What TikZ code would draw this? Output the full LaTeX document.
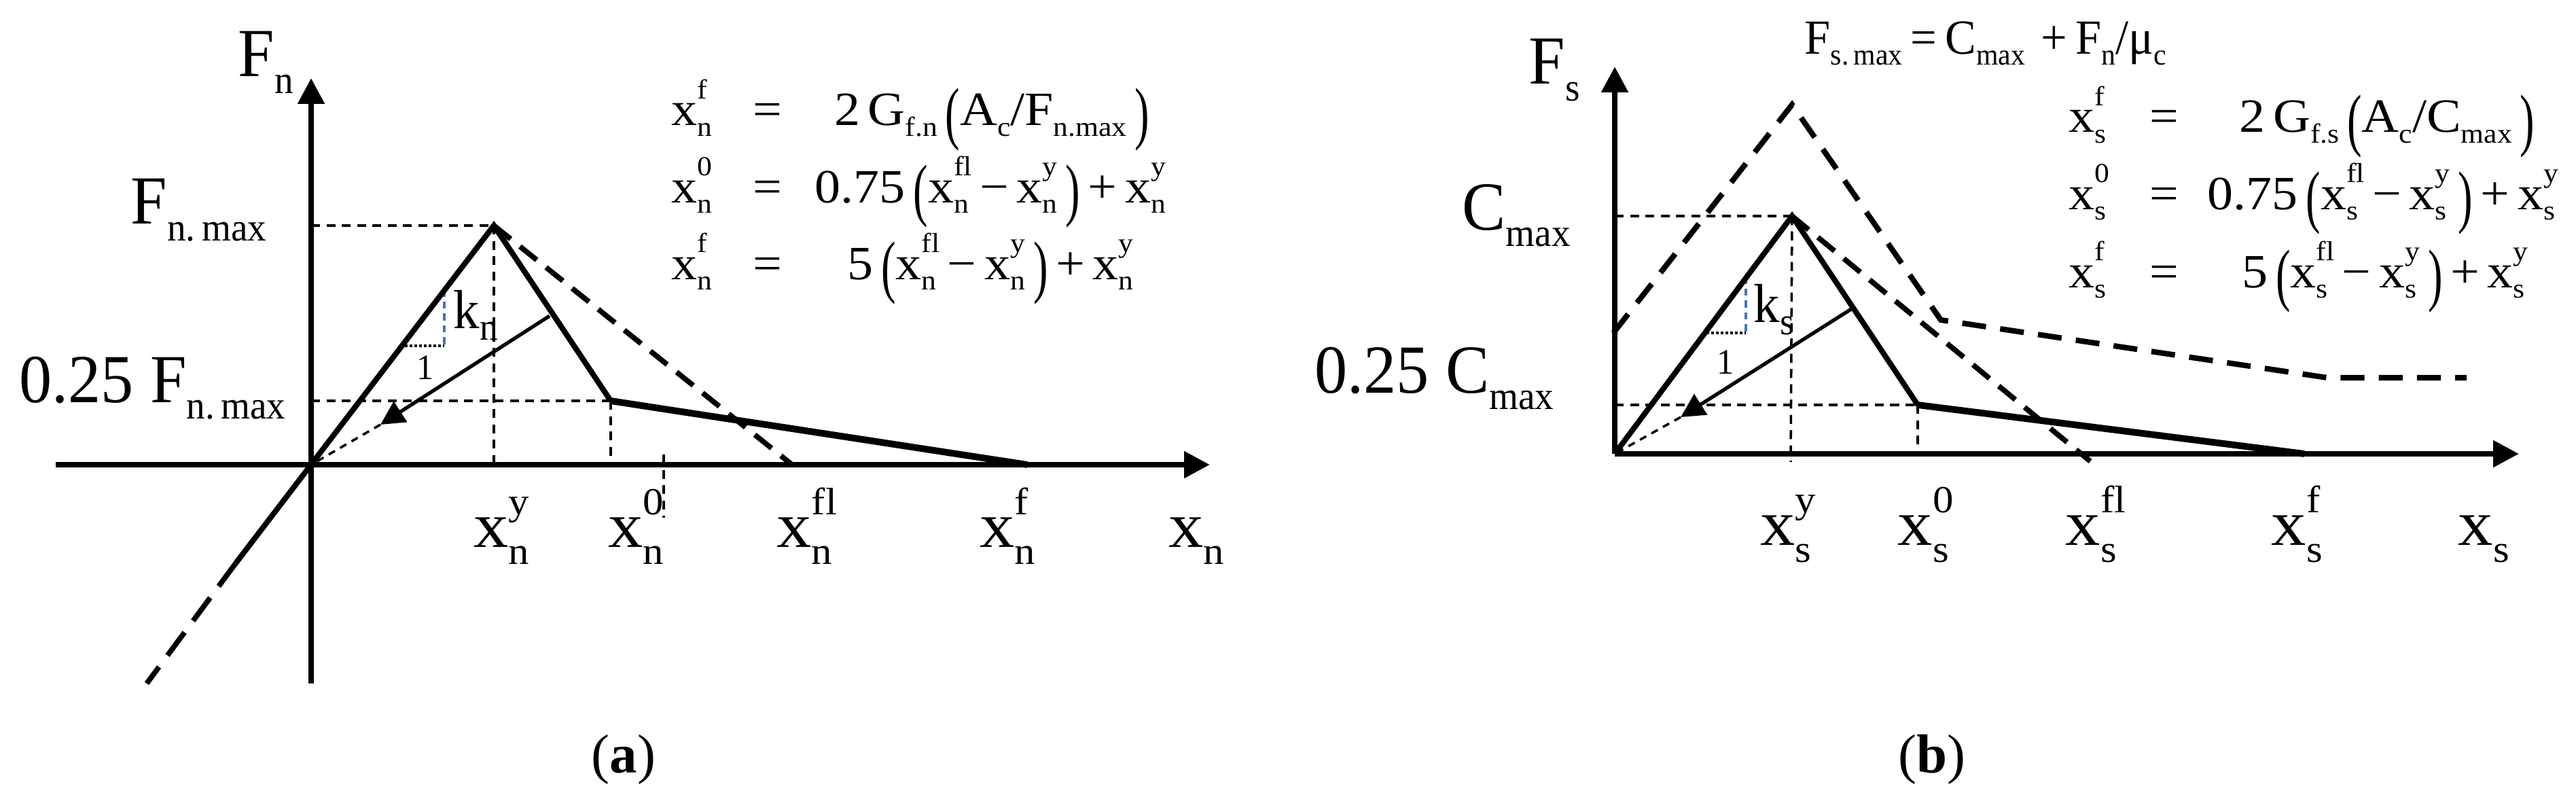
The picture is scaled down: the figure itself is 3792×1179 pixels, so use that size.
\documentclass[tikz,border=0pt]{standalone}
\usepackage{fontspec}
\setmainfont{Liberation Serif}[FakeStretch=0.95]
\newfontfamily\capfont{Liberation Serif}
\newfontfamily\eqfont{Liberation Serif}[FakeStretch=1.08]
\usepackage{graphicx}
\usetikzlibrary{arrows.meta}
\definecolor{slopeblue}{RGB}{68,114,196}
\newcommand\subfont{\fontsize{16}{17}\selectfont}
\newcommand\subdn{0.24em}
\newcommand\supup{0.45em}
\newcommand\SSa[3]{\mbox{#1%
 \setbox0=\hbox{\subfont #2}\setbox2=\hbox{\subfont #3}%
 \ifdim\wd0>\wd2 \rlap{\raisebox{\supup}{\copy2}}\raisebox{-\subdn}{\copy0}%
 \else\rlap{\raisebox{-\subdn}{\copy0}}\raisebox{\supup}{\copy2}\fi}}
\newcommand\bigp[1]{\raisebox{-0.22em}{\scalebox{0.85}[1.45]{#1}}}
\tikzset{
 axisline/.style={line width=2.4pt,-{Triangle[length=10.8pt,width=10.8pt]}},
 curveline/.style={line width=2.3pt,line join=miter},
 softline/.style={line width=2.8pt},
 bigdash/.style={line width=2.2pt,dash pattern=on 9pt off 5pt},
 longdash/.style={line width=2.2pt,dash pattern=on 12pt off 6pt},
 outerline/.style={line width=2.3pt,dash pattern=on 10pt off 6pt,line join=miter},
 guideline/.style={line width=1pt,dash pattern=on 3.8pt off 2.6pt},
 unloadline/.style={line width=1.5pt,-{Triangle[length=10pt,width=10pt]}},
 thindash/.style={line width=1pt,dash pattern=on 3pt off 2.5pt},
 slopeh/.style={line width=1.2pt,dash pattern=on 1pt off 1pt},
 slopev/.style={line width=1pt,draw=slopeblue,dash pattern=on 3pt off 2pt},
 labtxt/.style={inner sep=0pt,anchor=base west,font={\fontsize{28.8}{30}\selectfont\def\subfont{\fontsize{16.5}{17}\selectfont}\def\subdn{0.24em}\def\supup{0.45em}}},
 ticktxt/.style={inner sep=0pt,anchor=base west,font={\eqfont\fontsize{27}{28}\selectfont\def\subfont{\fontsize{16}{17}\selectfont}\def\subdn{0.27em}\def\supup{0.5em}}},
 eqtxt/.style={inner sep=0pt,anchor=base,font={\eqfont\fontsize{20}{21}\selectfont\def\subfont{\fontsize{11.5}{12}\selectfont}\def\subdn{0.22em}\def\supup{0.56em}}},
 topeqtxt/.style={inner sep=0pt,anchor=base west,font={\fontsize{20.5}{21}\selectfont\def\subfont{\fontsize{12.5}{13}\selectfont}\def\subdn{0.22em}\def\supup{0.5em}}},
 ktxt/.style={inner sep=0pt,anchor=base west,font={\fontsize{23}{24}\selectfont\def\subfont{\fontsize{16}{17}\selectfont}\def\subdn{0.22em}\def\supup{0.45em}}},
 onetxt/.style={inner sep=0pt,anchor=base west,font=\fontsize{15}{16}\selectfont},
 captxt/.style={inner sep=0pt,font=\capfont\fontsize{23}{25}\selectfont},
}
\begin{document}
\begin{tikzpicture}[x=0.01cm,y=-0.01cm]
\useasboundingbox (0,0) rectangle (3792,1179);
% ---------------- panel (a) ----------------
\coordinate (aO) at (458,684);
\coordinate (aYtop) at (458,115);
\coordinate (aYbot) at (458,1006);
\coordinate (aXl) at (82,684);
\coordinate (aXr) at (1781,684);
\coordinate (aP) at (727,332);
\coordinate (aC) at (899,590);
\coordinate (aE) at (1512,684);
\coordinate (aFl) at (1166,684);
\coordinate (aMid) at (347,829);
\coordinate (aNeg) at (216,1006);
\coordinate (aU) at (809,465);
\coordinate (aA) at (560,625);
\coordinate (aPy) at (458,332);
\coordinate (aCy) at (458,590);
\coordinate (aPx) at (727,684);
\coordinate (aCx) at (899,672);
\coordinate (aZt) at (977,669);
\coordinate (aZb) at (977,762);
\coordinate (aS1) at (596,509);
\coordinate (aS2) at (654,509);
\coordinate (aS3) at (654,426);

\draw[guideline] (aPy) -- (aP);
\draw[guideline] (aCy) -- (aC);
\draw[guideline] (aP) -- (aPx);
\draw[guideline] (aC) -- (aCx);
\draw[guideline] (aZt) -- (aZb);
\draw[slopeh] (aS1) -- (aS2);
\draw[slopev] (aS3) -- (aS2);
\draw[bigdash] (aP) -- (aFl);
\draw[longdash] (aMid) -- (aNeg);
\draw[curveline] (aMid) -- (aP) -- (aC);
\draw[softline] (aC) -- (aE);
\draw[unloadline] (aU) -- (aA);
\draw[thindash] (aA) -- (aO);
\draw[axisline] (aYbot) -- (aYtop);
\draw[axisline] (aXl) -- (aXr);

\node[labtxt] (aFn) at (350,113) {\SSa{F}{n}{}};
\node[labtxt] (aFmax) at (192,330) {\SSa{F}{n.\,max}{}};
\node[labtxt] (aF25) at (28,592) {0.25 \SSa{F}{n.\,max}{}};
\node[ktxt] (akn) at (667,483) {\SSa{k}{n}{}};
\node[onetxt] (aone) at (613,558) {1};
\node[ticktxt] (axy) at (697,805) {\SSa{x}{n}{y}};
\node[ticktxt] (ax0) at (895,805) {\SSa{x}{n}{0}};
\node[ticktxt] (axfl) at (1143,805) {\SSa{x}{n}{fl}};
\node[ticktxt] (axf) at (1442,805) {\SSa{x}{n}{f}};
\node[ticktxt] (axn) at (1720,805) {\SSa{x}{n}{}};

\node[eqtxt,anchor=base west] (aL1) at (988,185) {\SSa{x}{n}{f}};
\node[eqtxt] (aQ1) at (1130,185) {=};
\node[eqtxt] (aR1) at (1460,185) {2\,\SSa{G}{f.n}{}\,\bigp{(}\SSa{A}{c}{}/\SSa{F}{n.max}{}\,\bigp{)}};
\node[eqtxt,anchor=base west] (aL2) at (988,298) {\SSa{x}{n}{0}};
\node[eqtxt] (aQ2) at (1130,298) {=};
\node[eqtxt] (aR2) at (1458,298) {0.75\,\bigp{(}\SSa{x}{n}{fl}\,−\,\SSa{x}{n}{y}\,\bigp{)}\,+\,\SSa{x}{n}{y}};
\node[eqtxt,anchor=base west] (aL3) at (988,411) {\SSa{x}{n}{f}};
\node[eqtxt] (aQ3) at (1130,411) {=};
\node[eqtxt] (aR3) at (1458,411) {5\,\bigp{(}\SSa{x}{n}{fl}\,−\,\SSa{x}{n}{y}\,\bigp{)}\,+\,\SSa{x}{n}{y}};

\node[captxt] (acap) at (918,1118) {(\textbf{a})};

% ---------------- panel (b) ----------------
\coordinate (bO) at (2377,668);
\coordinate (bYtop) at (2377,98);
\coordinate (bXr) at (3708,668);
\coordinate (bP) at (2638,318);
\coordinate (bC) at (2823,596);
\coordinate (bE) at (3392,668);
\coordinate (bFl) at (3077,679);
\coordinate (bQ0) at (2375,490);
\coordinate (bQ1) at (2638,154);
\coordinate (bQ2) at (2857,471);
\coordinate (bQ3) at (3426,556);
\coordinate (bQ4) at (3631,556);
\coordinate (bU) at (2725,455);
\coordinate (bA) at (2474,614);
\coordinate (bPy) at (2377,318);
\coordinate (bCy) at (2377,596);
\coordinate (bPx) at (2636,680);
\coordinate (bCx) at (2823,656);
\coordinate (bS1) at (2512,490);
\coordinate (bS2) at (2570,490);
\coordinate (bS3) at (2570,407);

\draw[guideline] (bPy) -- (bP);
\draw[guideline] (bCy) -- (bC);
\draw[guideline] (bP) -- (bPx);
\draw[guideline] (bC) -- (bCx);
\draw[slopeh] (bS1) -- (bS2);
\draw[slopev] (bS3) -- (bS2);
\draw[bigdash] (bP) -- (bFl);
\draw[outerline] (bQ0) -- (bQ1) -- (bQ2) -- (bQ3) -- (bQ4);
\draw[curveline] (bO) -- (bP) -- (bC);
\draw[softline] (bC) -- (bE);
\draw[unloadline] (bU) -- (bA);
\draw[thindash] (bA) -- (bO);
\draw[axisline] (bO) -- (bYtop);
\draw[axisline] (bO) -- (bXr);

\node[labtxt] (bFs) at (2250,124) {\SSa{F}{s}{}};
\node[labtxt] (bCmax) at (2152,338) {\SSa{C}{max}{}};
\node[labtxt] (bC25) at (1935,578) {0.25 \SSa{C}{max}{}};
\node[ktxt] (bks) at (2581,475) {\SSa{k}{s}{}};
\node[onetxt] (bone) at (2527,550) {1};
\node[ticktxt] (bxy) at (2591,802) {\SSa{x}{s}{y}};
\node[ticktxt] (bx0) at (2793,802) {\SSa{x}{s}{0}};
\node[ticktxt] (bxfl) at (3040,802) {\SSa{x}{s}{fl}};
\node[ticktxt] (bxf) at (3343,802) {\SSa{x}{s}{f}};
\node[ticktxt] (bxs) at (3618,802) {\SSa{x}{s}{}};

\node[topeqtxt] (btop) at (2656,80) {\SSa{F}{s.\,max}{}\,=\,\SSa{C}{max}{}\,\,+\,\SSa{F}{n}{}/\SSa{μ}{c}{}};
\node[eqtxt,anchor=base west] (bL1) at (3045,195) {\SSa{x}{s}{f}};
\node[eqtxt] (bQe1) at (3186,195) {=};
\node[eqtxt] (bR1) at (3514,195) {2\,\SSa{G}{f.s}{}\,\bigp{(}\SSa{A}{c}{}/\SSa{C}{max}{}\,\bigp{)}};
\node[eqtxt,anchor=base west] (bL2) at (3045,308) {\SSa{x}{s}{0}};
\node[eqtxt] (bQe2) at (3186,308) {=};
\node[eqtxt] (bR2) at (3508,308) {0.75\,\bigp{(}\SSa{x}{s}{fl}\,−\,\SSa{x}{s}{y}\,\bigp{)}\,+\,\SSa{x}{s}{y}};
\node[eqtxt,anchor=base west] (bL3) at (3045,423) {\SSa{x}{s}{f}};
\node[eqtxt] (bQe3) at (3186,423) {=};
\node[eqtxt] (bR3) at (3511,423) {5\,\bigp{(}\SSa{x}{s}{fl}\,−\,\SSa{x}{s}{y}\,\bigp{)}\,+\,\SSa{x}{s}{y}};

\node[captxt] (bcap) at (2844,1118) {(\textbf{b})};
\end{tikzpicture}
\end{document}
